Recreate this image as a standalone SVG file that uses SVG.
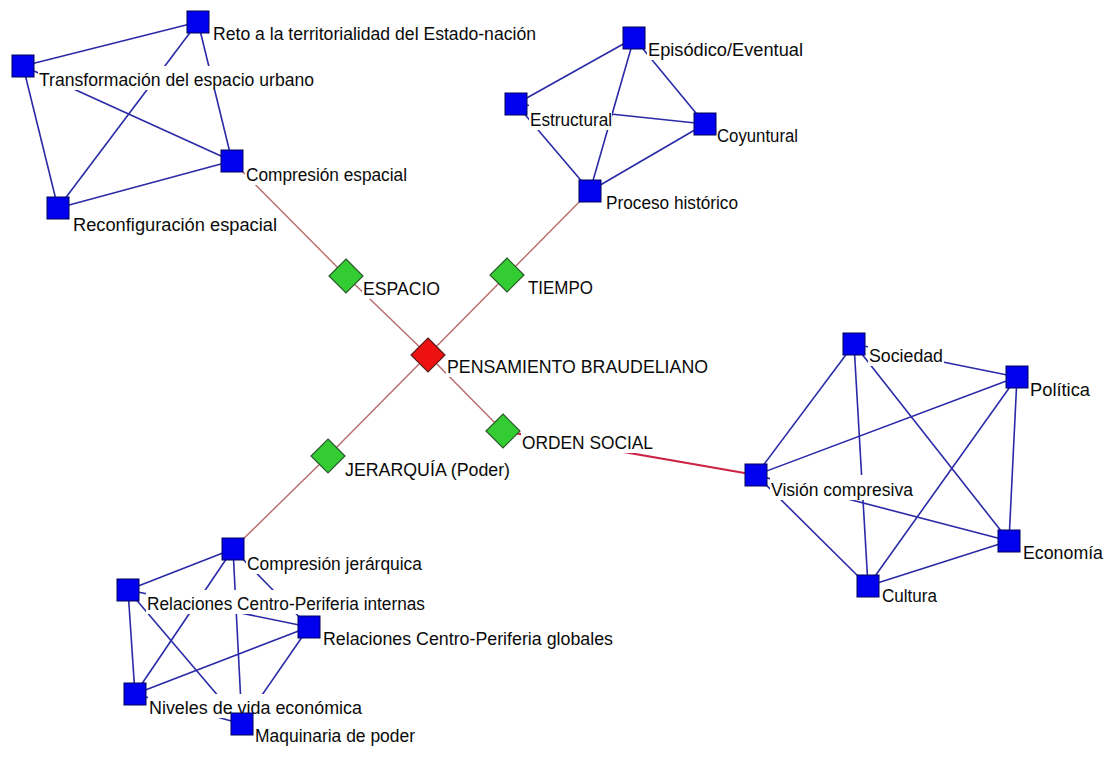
<svg xmlns="http://www.w3.org/2000/svg" width="1107" height="757" viewBox="0 0 1107 757">
<style>
.e{stroke:#2a2aa8;stroke-width:1.6;fill:none}
.r{stroke:#b86a6a;stroke-width:1.4;fill:none}
.r2{stroke:#cc2244;stroke-width:2;fill:none}
.sq{fill:#0000ee;stroke:#00005a;stroke-width:1}
.dg{fill:#33cc33;stroke:#2a5a2a;stroke-width:1.2}
.dr{fill:#ee1111;stroke:#5a1a1a;stroke-width:1.2}
.lb{fill:#ffffff}
text{font-family:"Liberation Sans",Arial,sans-serif;font-size:17.5px;fill:#0a0a0a}
</style>
<rect width="1107" height="757" fill="#ffffff"/>
<g id="connectors">
<line class="e" x1="198" y1="22" x2="23" y2="66"/>
<line class="e" x1="198" y1="22" x2="58" y2="208"/>
<line class="e" x1="198" y1="22" x2="232" y2="161"/>
<line class="e" x1="23" y1="66" x2="58" y2="208"/>
<line class="e" x1="23" y1="66" x2="232" y2="161"/>
<line class="e" x1="232" y1="161" x2="58" y2="208"/>
<line class="e" x1="634" y1="38" x2="516" y2="104"/>
<line class="e" x1="634" y1="38" x2="590" y2="191"/>
<line class="e" x1="634" y1="38" x2="705" y2="124"/>
<line class="e" x1="516" y1="104" x2="705" y2="124"/>
<line class="e" x1="516" y1="104" x2="590" y2="191"/>
<line class="e" x1="705" y1="124" x2="590" y2="191"/>
<line class="e" x1="854" y1="344" x2="1017" y2="377"/>
<line class="e" x1="854" y1="344" x2="756" y2="475"/>
<line class="e" x1="854" y1="344" x2="868" y2="586"/>
<line class="e" x1="854" y1="344" x2="1009" y2="541"/>
<line class="e" x1="1017" y1="377" x2="756" y2="475"/>
<line class="e" x1="1017" y1="377" x2="868" y2="586"/>
<line class="e" x1="1017" y1="377" x2="1009" y2="541"/>
<line class="e" x1="756" y1="475" x2="1009" y2="541"/>
<line class="e" x1="756" y1="475" x2="868" y2="586"/>
<line class="e" x1="1009" y1="541" x2="868" y2="586"/>
<line class="e" x1="233" y1="549" x2="128" y2="590"/>
<line class="e" x1="233" y1="549" x2="135" y2="694"/>
<line class="e" x1="233" y1="549" x2="242" y2="724"/>
<line class="e" x1="233" y1="549" x2="309" y2="627"/>
<line class="e" x1="128" y1="590" x2="135" y2="694"/>
<line class="e" x1="128" y1="590" x2="242" y2="724"/>
<line class="e" x1="128" y1="590" x2="309" y2="627"/>
<line class="e" x1="135" y1="694" x2="309" y2="627"/>
<line class="e" x1="135" y1="694" x2="242" y2="724"/>
<line class="e" x1="309" y1="627" x2="242" y2="724"/>
<line class="r" x1="232" y1="161" x2="346" y2="276"/>
<line class="r" x1="346" y1="276" x2="428" y2="355"/>
<line class="r" x1="428" y1="355" x2="503" y2="431"/>
<line class="r" x1="428" y1="355" x2="507" y2="275"/>
<line class="r" x1="507" y1="275" x2="590" y2="191"/>
<line class="r" x1="428" y1="355" x2="328" y2="456"/>
<line class="r" x1="328" y1="456" x2="233" y2="549"/>
<line class="r2" x1="503" y1="431" x2="756" y2="475"/>
</g>
<g id="reto"><rect class="lb" x="212" y="22" width="325" height="22"/><text x="213" y="40" textLength="323" lengthAdjust="spacingAndGlyphs">Reto a la territorialidad del Estado-nación</text><rect class="sq" x="187" y="11" width="22" height="22"/></g>
<g id="transformacion"><rect class="lb" x="38" y="66" width="277" height="24"/><text x="39" y="86" textLength="275" lengthAdjust="spacingAndGlyphs">Transformación del espacio urbano</text><rect class="sq" x="12" y="55" width="22" height="22"/></g>
<g id="compresion-espacial"><rect class="lb" x="245" y="161" width="163" height="24"/><text x="246" y="181" textLength="161" lengthAdjust="spacingAndGlyphs">Compresión espacial</text><rect class="sq" x="221" y="150" width="22" height="22"/></g>
<g id="reconfiguracion"><rect class="lb" x="72" y="208" width="206" height="27"/><text x="73" y="231" textLength="204" lengthAdjust="spacingAndGlyphs">Reconfiguración espacial</text><rect class="sq" x="47" y="197" width="22" height="22"/></g>
<g id="episodico"><rect class="lb" x="647" y="38" width="157" height="22"/><text x="648" y="56" textLength="155" lengthAdjust="spacingAndGlyphs">Episódico/Eventual</text><rect class="sq" x="623" y="27" width="22" height="22"/></g>
<g id="estructural"><rect class="lb" x="529" y="104" width="83" height="26"/><text x="530" y="126" textLength="82" lengthAdjust="spacingAndGlyphs">Estructural</text><rect class="sq" x="505" y="93" width="22" height="22"/></g>
<g id="coyuntural"><rect class="lb" x="716" y="124" width="83" height="22"/><text x="717" y="142" textLength="81" lengthAdjust="spacingAndGlyphs">Coyuntural</text><rect class="sq" x="694" y="113" width="22" height="22"/></g>
<g id="proceso"><rect class="lb" x="605" y="191" width="134" height="22"/><text x="606" y="209" textLength="132" lengthAdjust="spacingAndGlyphs">Proceso histórico</text><rect class="sq" x="579" y="180" width="22" height="22"/></g>
<g id="espacio"><rect class="lb" x="362" y="276" width="79" height="23"/><text x="363" y="295" textLength="77" lengthAdjust="spacingAndGlyphs">ESPACIO</text><polygon class="dg" points="346,259 363,276 346,293 329,276"/></g>
<g id="tiempo"><rect class="lb" x="527" y="275" width="67" height="23"/><text x="528" y="294" textLength="65" lengthAdjust="spacingAndGlyphs">TIEMPO</text><polygon class="dg" points="507,258 524,275 507,292 490,275"/></g>
<g id="pensamiento"><rect class="lb" x="446" y="355" width="263" height="22"/><text x="447" y="373" textLength="261" lengthAdjust="spacingAndGlyphs">PENSAMIENTO BRAUDELIANO</text><polygon class="dr" points="428,338 445,355 428,372 411,355"/></g>
<g id="orden-social"><rect class="lb" x="521" y="431" width="133" height="22"/><text x="522" y="449" textLength="131" lengthAdjust="spacingAndGlyphs">ORDEN SOCIAL</text><polygon class="dg" points="503,414 520,431 503,448 486,431"/></g>
<g id="jerarquia"><rect class="lb" x="344" y="456" width="167" height="24"/><text x="345" y="476" textLength="165" lengthAdjust="spacingAndGlyphs">JERARQUÍA (Poder)</text><polygon class="dg" points="328,439 345,456 328,473 311,456"/></g>
<g id="sociedad"><rect class="lb" x="868" y="344" width="76" height="22"/><text x="869" y="362" textLength="74" lengthAdjust="spacingAndGlyphs">Sociedad</text><rect class="sq" x="843" y="333" width="22" height="22"/></g>
<g id="politica"><rect class="lb" x="1029" y="377" width="62" height="23"/><text x="1030" y="396" textLength="60" lengthAdjust="spacingAndGlyphs">Política</text><rect class="sq" x="1006" y="366" width="22" height="22"/></g>
<g id="vision"><rect class="lb" x="770" y="475" width="144" height="25"/><text x="771" y="496" textLength="142" lengthAdjust="spacingAndGlyphs">Visión compresiva</text><rect class="sq" x="745" y="464" width="22" height="22"/></g>
<g id="economia"><rect class="lb" x="1022" y="541" width="82" height="22"/><text x="1023" y="559" textLength="80" lengthAdjust="spacingAndGlyphs">Economía</text><rect class="sq" x="998" y="530" width="22" height="22"/></g>
<g id="cultura"><rect class="lb" x="881" y="586" width="57" height="20"/><text x="882" y="602" textLength="55" lengthAdjust="spacingAndGlyphs">Cultura</text><rect class="sq" x="857" y="575" width="22" height="22"/></g>
<g id="compresion-jerarquica"><rect class="lb" x="246" y="549" width="177" height="25"/><text x="247" y="570" textLength="175" lengthAdjust="spacingAndGlyphs">Compresión jerárquica</text><rect class="sq" x="222" y="538" width="22" height="22"/></g>
<g id="rcp-internas"><rect class="lb" x="146" y="590" width="280" height="24"/><text x="147" y="610" textLength="278" lengthAdjust="spacingAndGlyphs">Relaciones Centro-Periferia internas</text><rect class="sq" x="117" y="579" width="22" height="22"/></g>
<g id="rcp-globales"><rect class="lb" x="322" y="627" width="292" height="22"/><text x="323" y="645" textLength="290" lengthAdjust="spacingAndGlyphs">Relaciones Centro-Periferia globales</text><rect class="sq" x="298" y="616" width="22" height="22"/></g>
<g id="niveles"><rect class="lb" x="148" y="694" width="215" height="24"/><text x="149" y="714" textLength="213" lengthAdjust="spacingAndGlyphs">Niveles de vida económica</text><rect class="sq" x="124" y="683" width="22" height="22"/></g>
<g id="maquinaria"><rect class="lb" x="254" y="724" width="162" height="22"/><text x="255" y="742" textLength="160" lengthAdjust="spacingAndGlyphs">Maquinaria de poder</text><rect class="sq" x="231" y="713" width="22" height="22"/></g>
</svg>
